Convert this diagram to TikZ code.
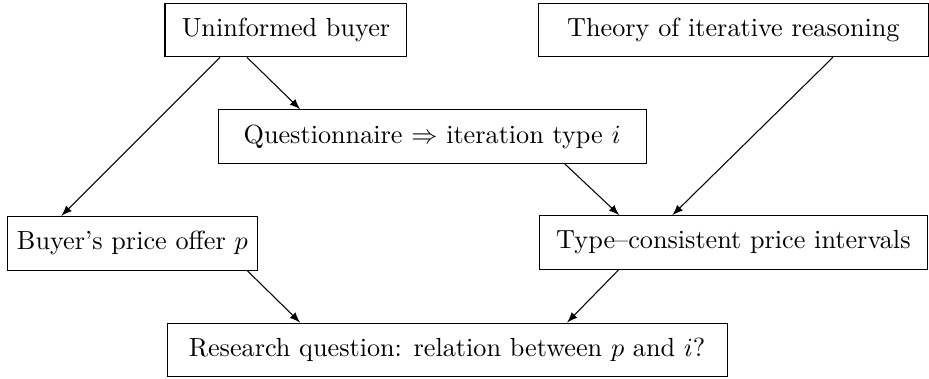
\documentclass[tikz,border=0pt]{standalone}
\usepackage{tikz}
\usetikzlibrary{positioning}
\usepackage{amsmath}
\tikzset{
	stage/.style={draw, rectangle, inner sep=2pt, minimum height=0.72cm},
}

\begin{document}
\begin{tikzpicture}
		\useasboundingbox (-3.835,0.402) rectangle (8.623,-4.667);
		
		\node (buyer) [stage, minimum width=3.245cm] {Uninformed buyer};
		\node (theory) [stage, right of=buyer, xshift=5cm, minimum width=5.22cm] {Theory of iterative reasoning};
		\node (quest) [stage, below of=buyer, xshift=1.96cm, yshift=-0.43cm, minimum width=5.74cm] {Questionnaire $\Rightarrow$ iteration type $i$};
		
		\node (offer) [stage, below of=quest, xshift=-4.02cm, yshift=-0.43cm, minimum width=3.35cm] {Buyer's price offer $p$};
		\node (intervals) [stage, below of=theory, yshift=-1.85cm, minimum width=5.2cm] {Type--consistent price intervals};
		
		\node (rq) [stage, below of=quest, xshift=0.2cm, yshift=-1.86cm, minimum width=7.51cm] {Research question: relation between $p$ and $i$?};
		
		\begin{scope}[black, ->, >=latex]
			\draw ([xshift=-0.885cm]buyer.south) -- ([xshift=-0.952cm]offer.north);
			\draw ([xshift=-0.523cm]buyer.south) -- ([xshift=-1.77cm]quest.north);
			\draw ([xshift=1.334cm]theory.south) -- ([xshift=-0.818cm]intervals.north);
			\draw ([xshift=1.78cm]quest.south) -- ([xshift=-1.53cm]intervals.north);
			
			\draw ([xshift=1.54cm]offer.south) -- ([xshift=-1.97cm]rq.north);
			\draw ([xshift=-1.54cm]intervals.south) -- ([xshift=1.61cm]rq.north);
		\end{scope}
	\end{tikzpicture}
\end{document}
